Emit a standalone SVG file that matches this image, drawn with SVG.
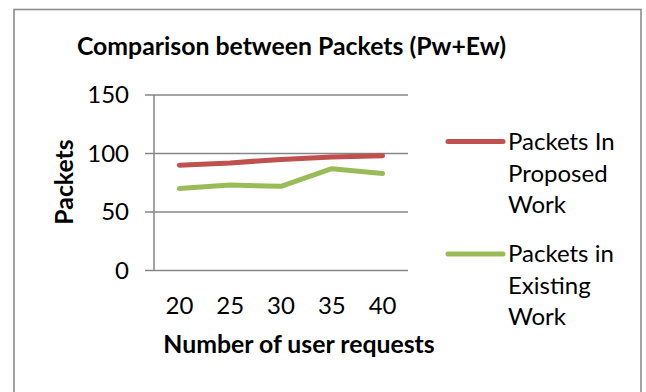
<svg xmlns="http://www.w3.org/2000/svg" width="646" height="392" viewBox="0 0 646 392">
  <style>
    .frame { fill: #ffffff; stroke: #8c8c8c; stroke-width: 1.6; }
    .grid { stroke: #868686; stroke-width: 1.5; fill: none; }
    .axis { stroke: #868686; stroke-width: 1.5; fill: none; }
    .series { fill: none; stroke-width: 5; stroke-linecap: round; stroke-linejoin: round; }
    .proposed { stroke: #C0504D; }
    .existing { stroke: #9BBB59; }
    text { font-family: Lato, "Open Sans", "Liberation Sans", sans-serif; fill: #000000; }
    .title { font-size: 24.8px; font-weight: bold; }
    .axis-title { font-size: 24.8px; font-weight: bold; }
    .tick { font-size: 24px; }
    .legend { font-size: 24px; }
  </style>

  <!-- chart frame -->
  <rect class="frame" x="14" y="9.5" width="627" height="400"/>

  <!-- chart title -->
  <g id="title">
    <text class="title" x="291.5" y="55" text-anchor="middle">Comparison between Packets (Pw+Ew)</text>
  </g>

  <!-- value axis: gridlines, ticks and labels -->
  <g id="value-axis">
    <line class="grid" x1="145" y1="95" x2="408" y2="95"/>
    <line class="grid" x1="145" y1="153.5" x2="408" y2="153.5"/>
    <line class="grid" x1="145" y1="212" x2="408" y2="212"/>
    <line class="axis" x1="145" y1="270.5" x2="408" y2="270.5"/>
    <line class="axis" x1="154" y1="95" x2="154" y2="270.5"/>
    <text class="tick" x="129" y="103" text-anchor="end">150</text>
    <text class="tick" x="129" y="161.5" text-anchor="end">100</text>
    <text class="tick" x="129" y="220" text-anchor="end">50</text>
    <text class="tick" x="129" y="278.5" text-anchor="end">0</text>
    <text class="axis-title" transform="translate(73 182) rotate(-90)" text-anchor="middle">Packets</text>
  </g>

  <!-- category axis labels -->
  <g id="category-axis">
    <text class="tick" x="179.4" y="314" text-anchor="middle">20</text>
    <text class="tick" x="230.2" y="314" text-anchor="middle">25</text>
    <text class="tick" x="281" y="314" text-anchor="middle">30</text>
    <text class="tick" x="331.8" y="314" text-anchor="middle">35</text>
    <text class="tick" x="382.6" y="314" text-anchor="middle">40</text>
    <text class="axis-title" x="299" y="353" text-anchor="middle">Number of user requests</text>
  </g>

  <!-- data series -->
  <g id="connectors">
    <polyline id="series-proposed" class="series proposed" points="179.4,165.2 230.2,162.9 281,159.4 331.8,157 382.6,155.8"/>
    <polyline id="series-existing" class="series existing" points="179.4,188.6 230.2,185.1 281,186.3 331.8,168.7 382.6,173.4"/>
  </g>

  <!-- legend -->
  <g id="legend-proposed">
    <line class="series proposed" x1="448" y1="141.5" x2="503" y2="141.5"/>
    <text class="legend" x="508" y="150">Packets In</text>
    <text class="legend" x="508" y="181.7">Proposed</text>
    <text class="legend" x="508" y="213.4">Work</text>
  </g>
  <g id="legend-existing">
    <line class="series existing" x1="448" y1="254" x2="503" y2="254"/>
    <text class="legend" x="508" y="262">Packets in</text>
    <text class="legend" x="508" y="293.7">Existing</text>
    <text class="legend" x="508" y="325.4">Work</text>
  </g>
</svg>
